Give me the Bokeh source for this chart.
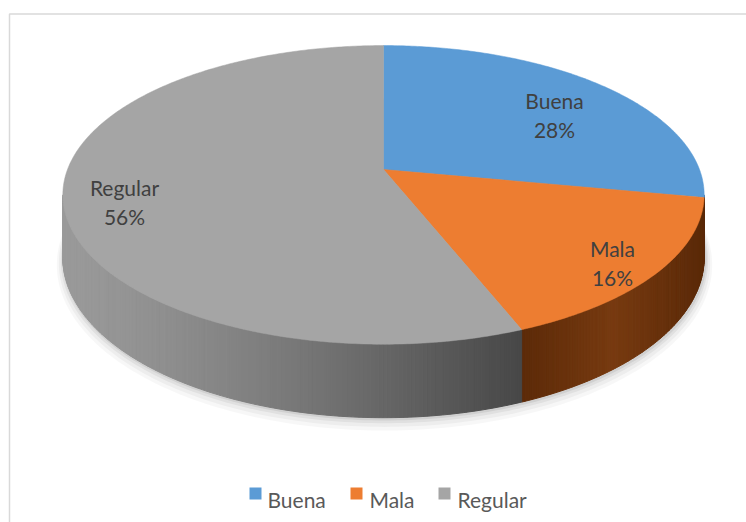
import numpy as np
from bokeh.plotting import figure
from bokeh.models import Range1d, ColumnDataSource
from bokeh.core.properties import value
from bokeh.embed import file_html
from bokeh.resources import INLINE

# ---------------- data ----------------
categories = ["Buena", "Mala", "Regular"]
percentages = [28, 16, 56]
top_colors = ["#5B9BD5", "#ED7D31", "#A5A5A5"]
# side colours (left -> right shading)
side_colors_left = ["#3d6d9c", "#5e2b08", "#9a9a9a"]
side_colors_right = ["#3d6d9c", "#6a300c", "#474747"]

# ---------------- layout ----------------
W, H = 746, 522
CX, CY = 383, 169          # pie centre (pixels)
A, B, E = 316, 145, 0.17   # ellipse half-axes and perspective factor
T0 = 61                    # thickness
FONT = "Lato"
FS = "21px"
LABEL_POS = [(554, 100), (612, 248), (124, 187)]   # baseline of first line
LINE_GAP = 29
LEG_SQ_X = [255, 356, 444]
LEG_TX_X = [267, 369, 457]
LEG_Y = 493


def proj(theta_deg, drop=0.0):
    t = np.radians(theta_deg)
    X = np.sin(t)
    Y = np.cos(t)
    w = 1 + E * Y
    return CX + A * X / w, CY - B * Y / w + drop * T0 / w


def hex2rgb(h):
    h = h.lstrip("#")
    return np.array([int(h[i:i + 2], 16) for i in (0, 2, 4)], dtype=float)


def mix(c1, c2, f):
    c = hex2rgb(c1) * (1 - f) + hex2rgb(c2) * f
    return "#%02x%02x%02x" % tuple(int(round(v)) for v in c)


total = float(sum(percentages))
bounds = np.concatenate([[0], np.cumsum(percentages) / total * 360.0])

p = figure(width=W, height=H, x_range=Range1d(0, W), y_range=Range1d(H, 0),
           min_border=0, toolbar_location=None, output_backend="svg")
p.axis.visible = False
p.grid.visible = False
p.outline_line_color = None
p.background_fill_color = "white"
p.border_fill_color = "white"

# ---------------- shadow ----------------
ths = np.linspace(0, 360, 361)
bx, by = proj(ths, 1.0)
for k, alpha in zip([7, 5, 3, 1.5], [0.03, 0.04, 0.05, 0.07]):
    sx = CX + (bx - CX) * (1 + k / 320.0) + 1
    sy = (by - CY) * (1 + k / 200.0) + CY + k * 0.6
    p.patch(list(sx), list(sy), fill_color="black", fill_alpha=alpha, line_color=None)

# ---------------- side strips ----------------
th_right = np.degrees(np.arccos(-E))
th_left = 360 - th_right
xL, _ = proj(th_left)
xR, _ = proj(th_right)
xM, _ = proj(bounds[2])
sxs, sys, scol = [], [], []
for i in range(len(percentages)):
    a0 = max(bounds[i], th_right)
    a1 = min(bounds[i + 1], th_left)
    if a1 <= a0:
        continue
    n = max(2, int((a1 - a0) / 0.6))
    angs = np.linspace(a0, a1, n + 1)
    for j in range(n):
        t0, t1 = angs[j], angs[j + 1]
        x0, y0 = proj(t0)
        x1, y1 = proj(t1)
        x0b, y0b = proj(t0, 1.0)
        x1b, y1b = proj(t1, 1.0)
        sxs.append([x0, x1, x1b, x0b])
        sys.append([y0, y1, y1b, y0b])
        xm = 0.5 * (x0 + x1)
        if i == 1:
            f = (xm - xM) / (xR - xM)
            c = mix("#5c2a08", "#773a10", min(1, f / 0.5)) if f < 0.5 else mix("#773a10", "#5a2908", (f - 0.5) / 0.5)
        else:
            f = (xm - xL) / (xM - xL)
            f = min(max(f, 0), 1)
            c = mix(side_colors_left[i], side_colors_right[i], f ** 1.3)
        scol.append(c)
p.patches(xs=sxs, ys=sys, fill_color=scol, line_color=scol, line_width=1)

# ---------------- top faces ----------------
txs, tys = [], []
for i in range(len(percentages)):
    angs = np.linspace(bounds[i], bounds[i + 1], max(3, int(percentages[i] * 6)))
    x, y = proj(angs)
    txs.append([CX] + list(x))
    tys.append([CY] + list(y))
p.patches(xs=txs, ys=tys, fill_color=top_colors, line_color=top_colors, line_width=0.5)

# ---------------- data labels ----------------
lab_src = ColumnDataSource(dict(
    x=[lp[0] for lp in LABEL_POS] * 2,
    y=[lp[1] for lp in LABEL_POS] + [lp[1] + LINE_GAP for lp in LABEL_POS],
    t=categories + ["%d%%" % v for v in percentages],
))
p.text(x="x", y="y", text="t", source=lab_src, text_align="center",
       text_baseline="alphabetic", text_font=value(FONT), text_font_size=FS,
       text_color="#404040")

# ---------------- legend ----------------
p.scatter(x=LEG_SQ_X, y=[LEG_Y] * 3, marker="square", size=12,
          fill_color=top_colors, line_color=None)
p.text(x=LEG_TX_X, y=[LEG_Y + 6] * 3, text=categories, text_align="left",
       text_baseline="alphabetic", text_font=value(FONT), text_font_size=FS,
       text_color="#595959")

# ---------------- chart border ----------------
p.quad(left=[9], right=[W + 20], top=[13.5], bottom=[H + 20], fill_color=None,
       line_color="#d9d9d9", line_width=1.5)

open("out.html", "w").write(file_html(p, INLINE))
